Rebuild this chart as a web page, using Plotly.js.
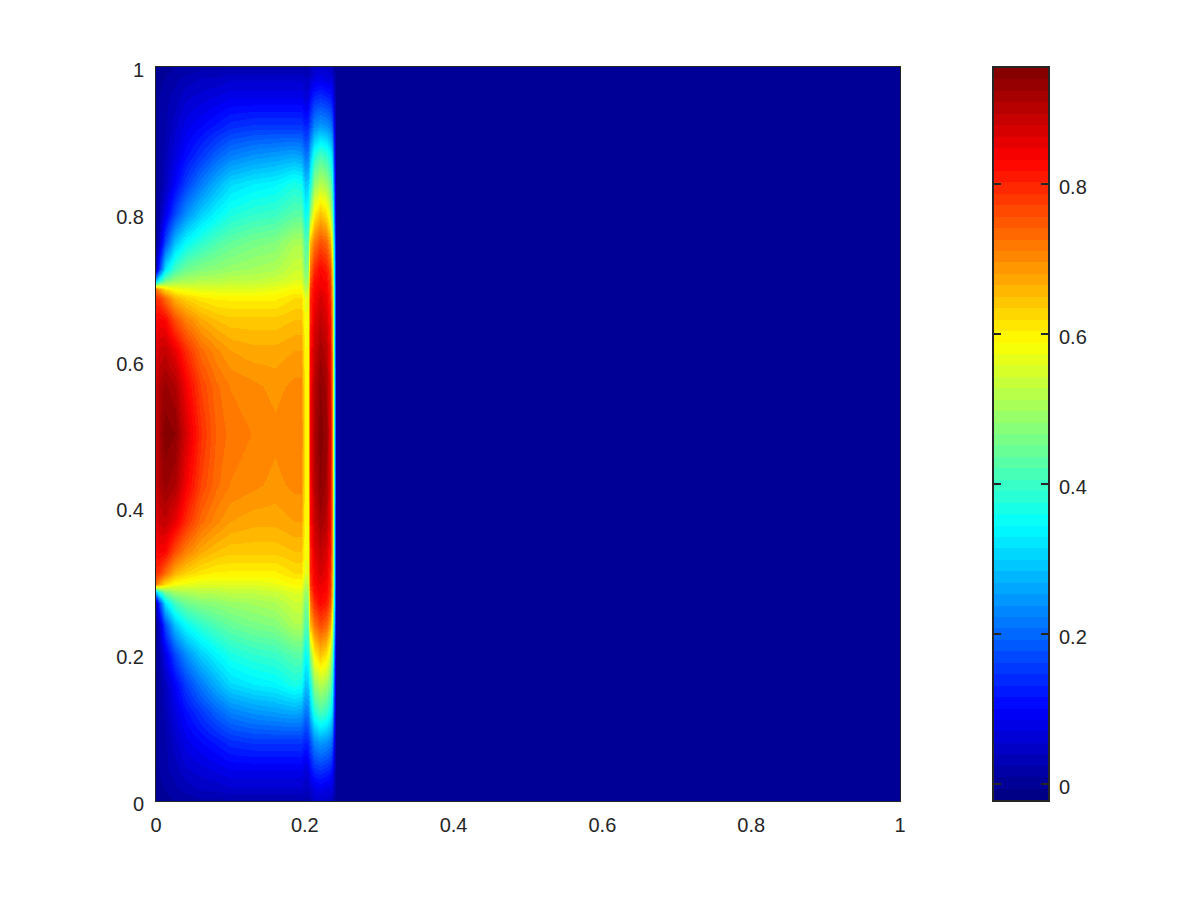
<!DOCTYPE html>
<html><head><meta charset="utf-8">
<script src="https://cdn.plot.ly/plotly-3.0.1.min.js"></script>
<style>html,body{margin:0;padding:0;background:#fff}</style></head>
<body><div id="chart" style="width:1200px;height:900px"></div>
<script>
const xKnots=[0,.004,.012,.025,.04,.06,.08,.1,.13,.16,.185,.195,.2,.204,.207,.213,.22,.228,.234,.237,.239,.242,.25,1];
const yKnots=[0,.015,.04,.08,.12,.16,.2,.24,.27,.285,.295,.31,.34,.38,.43,.5,.565,.615,.655,.685,.698,.708,.725,.76,.8,.84,.88,.92,.96,.985,1];
const fieldValues=[
[0,0,0,.01,.01,.02,.02,.02,.02,.02,.02,.02,.02,.02,.03,.05,.05,.05,.04,.03,.01,0,0,0],
[0,0,.01,.02,.03,.04,.04,.05,.05,.05,.05,.05,.04,.04,.05,.07,.08,.07,.07,.06,.03,0,0,0],
[0,.01,.02,.03,.05,.06,.07,.08,.08,.08,.08,.08,.06,.07,.10,.13,.14,.13,.12,.10,.05,0,0,0],
[0,.01,.02,.05,.08,.10,.12,.14,.15,.15,.15,.15,.13,.14,.17,.23,.25,.24,.22,.19,.09,0,0,0],
[0,.01,.03,.07,.11,.15,.19,.22,.24,.25,.26,.25,.21,.22,.28,.37,.41,.39,.35,.30,.14,0,0,0],
[0,.01,.04,.10,.16,.22,.27,.31,.33,.34,.37,.36,.29,.30,.36,.48,.52,.50,.45,.38,.18,.01,0,0],
[0,.02,.08,.17,.24,.30,.34,.37,.39,.40,.43,.43,.35,.37,.48,.60,.65,.62,.55,.46,.23,.01,0,0],
[.01,.05,.17,.29,.35,.39,.42,.44,.46,.47,.51,.51,.42,.44,.65,.72,.76,.74,.68,.56,.30,.02,0,0],
[.04,.15,.32,.41,.45,.47,.48,.49,.50,.51,.54,.54,.46,.48,.72,.79,.83,.81,.76,.64,.35,.02,0,0],
[.30,.38,.46,.50,.51,.52,.52,.53,.53,.54,.56,.56,.49,.51,.75,.82,.84,.83,.78,.66,.36,.02,0,0],
[.72,.68,.62,.58,.57,.56,.56,.56,.56,.57,.59,.59,.52,.54,.78,.83,.85,.84,.79,.67,.37,.02,0,0],
[.79,.78,.73,.66,.63,.61,.60,.60,.60,.60,.62,.62,.56,.57,.79,.84,.87,.85,.80,.68,.38,.02,0,0],
[.83,.84,.83,.76,.71,.67,.65,.64,.64,.64,.65,.65,.58,.58,.80,.86,.89,.87,.82,.70,.38,.02,0,0],
[.86,.88,.89,.85,.79,.73,.70,.68,.67,.67,.68,.68,.59,.59,.82,.88,.92,.90,.84,.71,.39,.02,0,0],
[.88,.91,.93,.91,.84,.77,.73,.71,.70,.69,.70,.70,.60,.60,.83,.90,.94,.92,.85,.72,.40,.02,0,0],
[.88,.92,.95,.94,.87,.79,.74,.72,.71,.70,.71,.71,.60,.60,.84,.91,.95,.93,.86,.72,.40,.02,0,0],
[.88,.91,.93,.91,.84,.77,.73,.71,.70,.69,.70,.70,.60,.60,.83,.90,.94,.92,.85,.72,.40,.02,0,0],
[.86,.88,.89,.85,.79,.73,.70,.68,.67,.67,.68,.68,.59,.59,.82,.88,.92,.90,.84,.71,.39,.02,0,0],
[.83,.84,.83,.76,.71,.67,.65,.64,.64,.64,.65,.65,.58,.58,.80,.86,.89,.87,.82,.70,.38,.02,0,0],
[.79,.78,.73,.66,.63,.61,.60,.60,.60,.60,.62,.62,.56,.57,.79,.84,.87,.85,.80,.68,.38,.02,0,0],
[.72,.68,.62,.58,.57,.56,.56,.56,.56,.57,.59,.59,.52,.54,.78,.83,.85,.84,.79,.67,.37,.02,0,0],
[.30,.38,.46,.50,.51,.52,.52,.53,.53,.54,.56,.56,.49,.51,.75,.82,.84,.83,.78,.66,.36,.02,0,0],
[.04,.15,.32,.41,.45,.47,.48,.49,.50,.51,.54,.54,.46,.48,.72,.79,.83,.81,.76,.64,.35,.02,0,0],
[.01,.05,.17,.29,.35,.39,.42,.44,.46,.47,.51,.51,.42,.44,.65,.72,.76,.74,.68,.56,.30,.02,0,0],
[0,.02,.08,.17,.24,.30,.34,.37,.39,.40,.43,.43,.35,.37,.48,.60,.65,.62,.55,.46,.23,.01,0,0],
[0,.01,.04,.10,.16,.22,.27,.31,.33,.34,.37,.36,.29,.30,.36,.48,.52,.50,.45,.38,.18,.01,0,0],
[0,.01,.03,.07,.11,.15,.19,.22,.24,.25,.26,.25,.21,.22,.28,.37,.41,.39,.35,.30,.14,0,0,0],
[0,.01,.02,.05,.08,.10,.12,.14,.15,.15,.15,.15,.13,.14,.17,.23,.25,.24,.22,.19,.09,0,0,0],
[0,.01,.02,.03,.05,.06,.07,.08,.08,.08,.08,.08,.06,.07,.10,.13,.14,.13,.12,.10,.05,0,0,0],
[0,0,.01,.02,.03,.04,.04,.05,.05,.05,.05,.05,.04,.04,.05,.07,.08,.07,.07,.06,.03,0,0,0],
[0,0,0,.01,.01,.02,.02,.02,.02,.02,.02,.02,.02,.02,.03,.05,.05,.05,.04,.03,.01,0,0,0]
];
const axisTicks=[0,.2,.4,.6,.8,1];
const axisTickLabels=['0','0.2','0.4','0.6','0.8','1'];
const barTicks=[0,.2,.4,.6,.8];
const barTickLabels=['0','0.2','0.4','0.6','0.8'];
const valueMin=-0.0213, valueMax=0.9547, levelCount=64;

function jetChannel(t,c){return Math.max(0,Math.min(1,1.5-Math.abs(4*t-c)));}
const jetSteps=[];
for(let i=0;i<levelCount;i++){
  const t=(i+0.5)/levelCount;
  const col='rgb('+[3,2,1].map(c=>Math.round(255*jetChannel(t,c))).join(',')+')';
  jetSteps.push([i/levelCount,col],[(i+1)/levelCount,col]);
}
const barLevels=[];
for(let i=0;i<levelCount;i++){barLevels.push(valueMin+(i+0.5)*(valueMax-valueMin)/levelCount);}

const ink='#262626';
const font={family:'Liberation Sans, Arial, sans-serif',size:20,color:ink};
const traces=[
 {type:'heatmap',x:xKnots,y:yKnots,z:fieldValues,zmin:valueMin,zmax:valueMax,colorscale:jetSteps,zsmooth:'best',showscale:false,hoverinfo:'skip',xaxis:'x',yaxis:'y'},
 {type:'heatmap',x:[0.5],y:barLevels,z:barLevels.map(v=>[v]),zmin:valueMin,zmax:valueMax,colorscale:jetSteps,showscale:false,hoverinfo:'skip',xaxis:'x2',yaxis:'y2'}
];
const layout={
 width:1200,height:900,autosize:false,margin:{l:0,r:0,t:0,b:0},paper_bgcolor:'#fff',plot_bgcolor:'#fff',font:font,showlegend:false,
 xaxis:{domain:[156/1200,900/1200],range:[0,1],anchor:'y',tickmode:'array',tickvals:axisTicks,ticktext:axisTickLabels,ticks:'',showgrid:false,zeroline:false,showline:true,linecolor:ink,linewidth:1,mirror:true,tickfont:font,ticklabelstandoff:6},
 yaxis:{domain:[1-801/900,1-67/900],range:[0,1],anchor:'x',tickmode:'array',tickvals:axisTicks,ticktext:axisTickLabels,ticks:'',showgrid:false,zeroline:false,showline:true,linecolor:ink,linewidth:1,mirror:true,tickfont:font,ticklabelstandoff:7,ticklabelshift:3},
 xaxis2:{domain:[994/1200,1048/1200],range:[0,1],anchor:'y2',showticklabels:false,ticks:'',showgrid:false,zeroline:false,showline:true,linecolor:ink,linewidth:2,mirror:true},
 yaxis2:{domain:[1-800/900,1-68/900],range:[valueMin,valueMax],anchor:'x2',side:'right',tickmode:'array',tickvals:barTicks,ticktext:barTickLabels,ticks:'inside',ticklen:7,tickwidth:2,tickcolor:ink,showgrid:false,zeroline:false,showline:true,linecolor:ink,linewidth:2,mirror:'ticks',tickfont:font,ticklabelstandoff:5,ticklabelshift:3}
};
Plotly.newPlot('chart',traces,layout,{displayModeBar:false,staticPlot:true});
</script></body></html>
